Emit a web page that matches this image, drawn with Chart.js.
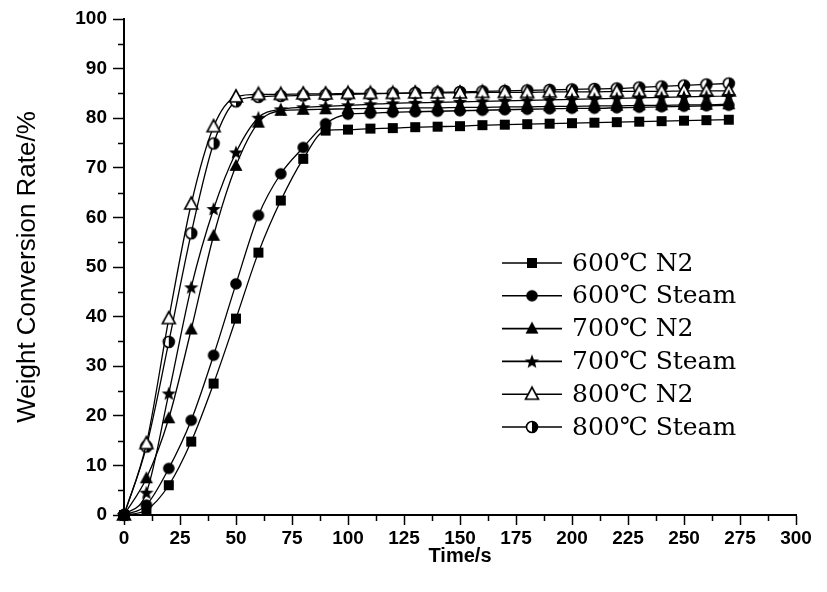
<!DOCTYPE html>
<html>
<head>
<meta charset="utf-8">
<script src="https://cdn.jsdelivr.net/npm/chart.js@4.4.1/dist/chart.umd.min.js"></script>
<style>
  html, body { margin: 0; padding: 0; background: #fff; }
  #chart { display: block; }
</style>
</head>
<body>
<canvas id="chart" width="827" height="592"></canvas>
<script>
// sampling times (s), one reading every 10 s
var times = [0, 10, 20, 30, 40, 50, 60, 70, 80, 90, 100, 110, 120, 130,
             140, 150, 160, 170, 180, 190, 200, 210, 220, 230, 240, 250, 260, 270];

// weight conversion rate (%) for each run
var n2At600 = [0, 1, 6, 14.8, 26.5, 39.6, 52.9, 63.4, 71.8, 77.5, 77.7, 77.9, 78.0, 78.2,
               78.3, 78.4, 78.6, 78.7, 78.8, 78.9, 79.0, 79.1, 79.2, 79.3, 79.4, 79.5, 79.6, 79.7];
var steamAt600 = [0, 2, 9.4, 19.1, 32.2, 46.6, 60.4, 68.8, 74.1, 78.9, 80.8, 81.0, 81.2, 81.3,
                  81.4, 81.5, 81.6, 81.7, 81.8, 81.9, 82.0, 82.0, 82.1, 82.2, 82.3, 82.4, 82.5, 82.6];
var n2At700 = [0, 7.4, 19.5, 37.4, 56.3, 70.4, 79.1, 81.5, 81.7, 81.8, 81.9, 82.0, 82.0, 82.1,
               82.1, 82.2, 82.2, 82.3, 82.3, 82.4, 82.4, 82.5, 82.5, 82.6, 82.6, 82.7, 82.7, 82.8];
var steamAt700 = [0, 4.5, 24.5, 45.9, 61.7, 73.1, 80.1, 81.8, 82.2, 82.4, 82.6, 82.8, 83.0, 83.1,
                  83.2, 83.3, 83.4, 83.5, 83.6, 83.7, 83.8, 83.9, 84.0, 84.1, 84.2, 84.3, 84.4, 84.5];
var n2At800 = [0, 14.4, 39.6, 62.7, 78.3, 84.3, 84.8, 84.8, 84.9, 84.9, 85.0, 85.0, 85.0, 85.1,
               85.1, 85.1, 85.2, 85.2, 85.2, 85.3, 85.3, 85.3, 85.4, 85.4, 85.4, 85.5, 85.5, 85.5];
var steamAt800 = [0, 13.8, 34.9, 56.8, 74.9, 83.4, 84.3, 84.5, 84.6, 84.7, 84.8, 84.9, 85.0, 85.1,
                  85.2, 85.3, 85.4, 85.5, 85.6, 85.7, 85.8, 85.9, 86.0, 86.2, 86.4, 86.6, 86.8, 87.0];

var seriesNames = ['600℃ N2', '600℃ Steam', '700℃ N2', '700℃ Steam', '800℃ N2', '800℃ Steam'];
var seriesValues = [n2At600, steamAt600, n2At700, steamAt700, n2At800, steamAt800];
var markerKinds = ['square', 'circle', 'triangle', 'star', 'triangleOpen', 'halfCircle'];

// small canvases used as point markers (and again in the legend)
function makeMarker(kind) {
    var size = 18;
    var c = document.createElement('canvas');
    c.width = size; c.height = size;
    var g = c.getContext('2d');
    var m = size / 2;
    g.fillStyle = '#000';
    g.strokeStyle = '#000';
    g.lineWidth = 1.6;
    if (kind === 'square') {
        g.fillRect(m - 5, m - 5, 10, 10);
    } else if (kind === 'circle') {
        g.beginPath(); g.arc(m, m, 5.8, 0, Math.PI * 2); g.fill();
    } else if (kind === 'triangle' || kind === 'triangleOpen') {
        g.beginPath();
        g.moveTo(m, m - 7); g.lineTo(m + 6.5, m + 5); g.lineTo(m - 6.5, m + 5);
        g.closePath();
        if (kind === 'triangle') {
            g.fill();
        } else {
            g.fillStyle = '#fff'; g.fill(); g.stroke();
        }
    } else if (kind === 'star') {
        g.beginPath();
        for (var k = 0; k < 10; k++) {
            var r = k % 2 === 0 ? 7.5 : 3.2;
            var a = -Math.PI / 2 + k * Math.PI / 5;
            var px = m + r * Math.cos(a), py = m + 0.5 + r * Math.sin(a);
            if (k === 0) g.moveTo(px, py); else g.lineTo(px, py);
        }
        g.closePath(); g.fill();
    } else if (kind === 'halfCircle') {
        g.beginPath(); g.arc(m, m, 5.5, 0, Math.PI * 2);
        g.fillStyle = '#fff'; g.fill();
        g.beginPath(); g.arc(m, m, 5.5, -Math.PI / 2, Math.PI / 2); g.closePath();
        g.fillStyle = '#000'; g.fill();
        g.beginPath(); g.arc(m, m, 5.5, 0, Math.PI * 2); g.stroke();
    }
    return c;
}

var markers = markerKinds.map(makeMarker);

var datasets = seriesNames.map(function(name, i) {
    return {
        label: name,
        data: times.map(function(t, j) { return { x: t, y: seriesValues[i][j] }; }),
        borderColor: '#000',
        backgroundColor: '#000',
        borderWidth: 1.3,
        pointStyle: markers[i],
        cubicInterpolationMode: 'monotone',
        fill: false,
        clip: false
    };
});

// minor ticks and the in-plot legend
var extras = {
    id: 'extras',
    afterDraw: function(chart) {
        var ctx = chart.ctx;
        var xs = chart.scales.x, ys = chart.scales.y;
        ctx.save();
        ctx.strokeStyle = '#000';
        ctx.lineWidth = 1.5;
        ctx.beginPath();
        for (var v = 5; v < 100; v += 10) {
            var py = Math.round(ys.getPixelForValue(v)) + 0.5;
            ctx.moveTo(xs.left - 6, py); ctx.lineTo(xs.left, py);
        }
        for (var t = 12.5; t < 300; t += 25) {
            var px = Math.round(xs.getPixelForValue(t)) + 0.5;
            ctx.moveTo(px, ys.bottom); ctx.lineTo(px, ys.bottom + 6);
        }
        ctx.stroke();

        var x0 = 502, x1 = 562, top = 263, gap = 32.8;
        ctx.font = '25px "DejaVu Serif"';
        ctx.fillStyle = '#000';
        ctx.textBaseline = 'middle';
        chart.data.datasets.forEach(function(ds, i) {
            var yy = top + i * gap;
            ctx.beginPath();
            ctx.lineWidth = 1.6;
            ctx.moveTo(x0, yy); ctx.lineTo(x1, yy);
            ctx.stroke();
            var img = ds.pointStyle;
            ctx.drawImage(img, (x0 + x1) / 2 - img.width / 2, yy - img.height / 2);
            ctx.fillText(ds.label, 572, yy + 1);
        });
        ctx.restore();
    }
};

var tickFont = { family: 'Liberation Sans', size: 19, weight: 'bold' };

new Chart(document.getElementById('chart').getContext('2d'), {
    type: 'line',
    data: { datasets: datasets },
    options: {
        responsive: false,
        animation: false,
        devicePixelRatio: 1,
        layout: { padding: { top: 19, right: 31, left: 0, bottom: 0 } },
        plugins: {
            legend: { display: false },
            tooltip: { enabled: false }
        },
        scales: {
            x: {
                type: 'linear',
                min: 0,
                max: 300,
                ticks: { stepSize: 25, color: '#000', font: tickFont, padding: 2, maxRotation: 0, autoSkip: false },
                grid: { drawOnChartArea: false, tickLength: 10, color: '#000', tickWidth: 1.5 },
                border: { color: '#000', width: 2 },
                title: {
                    display: true,
                    text: 'Time/s',
                    color: '#000',
                    font: { family: 'Liberation Sans', size: 20, weight: 'bold' },
                    padding: { top: 0, bottom: 24 }
                },
                afterFit: function(s) { s.height = 77; }
            },
            y: {
                min: 0,
                max: 100,
                ticks: { stepSize: 10, color: '#000', font: tickFont, padding: 6 },
                grid: { drawOnChartArea: false, tickLength: 11, color: '#000', tickWidth: 1.5 },
                border: { color: '#000', width: 2 },
                title: {
                    display: true,
                    text: 'Weight Conversion Rate/%',
                    color: '#000',
                    font: { family: 'Liberation Sans', size: 26 },
                    padding: { top: 12, bottom: 0 }
                },
                afterFit: function(s) { s.width = 124; }
            }
        }
    },
    plugins: [extras]
});
</script>
</body>
</html>
